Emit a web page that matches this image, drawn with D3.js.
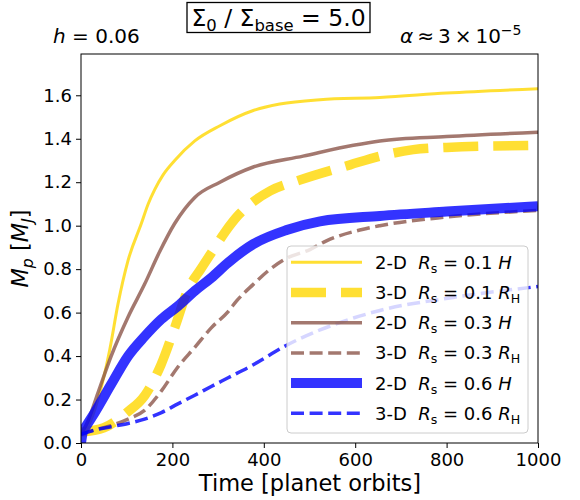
<!DOCTYPE html>
<html>
<head>
<meta charset="utf-8">
<script src="https://cdn.jsdelivr.net/npm/d3@7"></script>
<style>
  body { margin: 0; background: #fff; }
  svg { display: block; font-family: "DejaVu Sans", sans-serif; }
  text { white-space: pre; }
</style>
</head>
<body>
<svg id="chart" width="580" height="500"></svg>
<script>
// [time in planet orbits, planet mass in M_J]
var gold2D = [[0,0.04],[15,0.075],[37,0.20],[63,0.43],[81,0.64],[103,0.84],[132,1.01],[147,1.10],[161,1.165],[180,1.235],[205,1.30],[249,1.39],[304,1.46],[377,1.53],[435,1.56],[523,1.58],[654,1.59],[800,1.61],[1000,1.63]];
var gold3D = [[0,0.05],[50,0.07],[100,0.14],[140,0.22],[175,0.36],[205,0.53],[235,0.71],[262,0.80],[290,0.89],[315,0.97],[345,1.05],[377,1.11],[414,1.16],[479,1.21],[589,1.28],[654,1.32],[727,1.35],[800,1.36],[1000,1.37]];
var brown2D = [[0,0.04],[15,0.10],[37,0.23],[66,0.40],[103,0.58],[139,0.73],[172,0.88],[205,1.01],[249,1.13],[304,1.20],[377,1.27],[486,1.32],[596,1.37],[654,1.39],[800,1.41],[1000,1.43]];
var brown3D = [[0,0.04],[30,0.06],[66,0.08],[103,0.11],[139,0.15],[176,0.24],[212,0.35],[249,0.44],[285,0.53],[322,0.605],[341,0.655],[377,0.73],[414,0.80],[450,0.85],[501,0.89],[537,0.93],[610,0.98],[654,1.00],[800,1.04],[1000,1.07]];
var blue2D = [[0,0.0],[4,0.05],[12,0.08],[30,0.14],[66,0.27],[103,0.40],[139,0.49],[176,0.57],[212,0.63],[249,0.70],[285,0.76],[322,0.83],[377,0.915],[450,0.98],[523,1.02],[654,1.045],[800,1.065],[1000,1.09]];
var blue3D = [[0,0.04],[30,0.06],[66,0.075],[103,0.09],[139,0.11],[176,0.14],[212,0.18],[249,0.22],[285,0.26],[322,0.30],[377,0.36],[450,0.45],[523,0.52],[596,0.575],[654,0.61],[815,0.67],[1000,0.72]];

var xTicks = [0, 200, 400, 600, 800, 1000];
var yTicks = [0, 0.2, 0.4, 0.6, 0.8, 1.0, 1.2, 1.4, 1.6];
var legendDims = ["2-D", "3-D", "2-D", "3-D", "2-D", "3-D"];
var legendRs = ["0.1", "0.1", "0.3", "0.3", "0.6", "0.6"];

var svg = d3.select("#chart");
var x = d3.scaleLinear().domain([0, 1000]).range([81, 538]),
    y = d3.scaleLinear().domain([0, 1.79]).range([443, 54]);

var series = [
  { data: gold2D,  color: "gold",    width: 3,   dash: null },
  { data: gold3D,  color: "gold",    width: 9.5, dash: "35,15" },
  { data: brown2D, color: "#8c564b", width: 3.5, dash: null },
  { data: brown3D, color: "#8c564b", width: 3.5, dash: "13,5.6" },
  { data: blue2D,  color: "blue",    width: 10,  dash: null },
  { data: blue3D,  color: "blue",    width: 3.5, dash: "13,5.6" }
];

// sub / superscript helper, parts: {t, i, sub, sup}
function addMath(sel, parts, size) {
  var shift = 0;
  parts.forEach(function(p) {
    var ts = sel.append("tspan").text(p.t);
    var target = p.sub ? size * 0.22 : (p.sup ? -size * 0.42 : 0);
    ts.attr("dy", target - shift);
    shift = target;
    if (p.sub || p.sup) ts.attr("font-size", size * 0.7);
    if (p.i) ts.attr("font-style", "italic");
  });
}

svg.append("defs").append("clipPath").attr("id", "plotclip")
  .append("rect").attr("x", 81).attr("y", 54).attr("width", 457).attr("height", 389);

var line = d3.line()
  .x(function(d) { return x(d[0]); })
  .y(function(d) { return y(d[1]); })
  .curve(d3.curveMonotoneX);

svg.append("g").attr("clip-path", "url(#plotclip)")
  .selectAll("path.series")
  .data(series)
  .enter().append("path")
    .attr("class", "series")
    .attr("d", function(s) { return line(s.data); })
    .attr("fill", "none")
    .attr("stroke", function(s) { return s.color; })
    .attr("stroke-opacity", 0.8)
    .attr("stroke-width", function(s) { return s.width; })
    .attr("stroke-dasharray", function(s) { return s.dash; });

// axes
var xAxis = svg.append("g").attr("transform", "translate(0,443)")
  .call(d3.axisBottom(x).tickValues(xTicks).tickSize(5).tickSizeOuter(0).tickPadding(5).tickFormat(d3.format("d")));
var yAxis = svg.append("g").attr("transform", "translate(81,0)")
  .call(d3.axisLeft(y).tickValues(yTicks).tickSize(5).tickSizeOuter(0).tickPadding(4).tickFormat(d3.format(".1f")));
[xAxis, yAxis].forEach(function(a) {
  a.select(".domain").remove();
  a.selectAll("text").attr("font-size", 18).attr("font-family", "DejaVu Sans").attr("fill", "#000");
  a.selectAll("line").attr("stroke", "#000");
});

svg.append("rect")
  .attr("x", 81).attr("y", 54).attr("width", 457).attr("height", 389)
  .attr("fill", "none").attr("stroke", "#000").attr("stroke-width", 1);

// axis labels
svg.append("text").attr("x", 310).attr("y", 491).attr("text-anchor", "middle")
  .attr("font-size", 22.5).text("Time [planet orbits]");

var yl = svg.append("text").attr("text-anchor", "middle").attr("font-size", 22.5)
  .attr("transform", "translate(28,248.5) rotate(-90)");
addMath(yl, [{t: "M", i: true}, {t: "p", i: true, sub: true}, {t: " [", }, {t: "M", i: true}, {t: "J", i: true, sub: true}, {t: "]"}], 22.5);

// legend
var lg = svg.append("g");
lg.append("rect").attr("x", 287).attr("y", 246).attr("width", 241).attr("height", 187)
  .attr("rx", 4).attr("fill", "#fff").attr("fill-opacity", 0.8)
  .attr("stroke", "#ccc").attr("stroke-width", 1);

var rows = lg.selectAll("g.row").data(series).enter().append("g")
  .attr("class", "row")
  .attr("transform", function(s, i) { return "translate(0," + (262.3 + i * 30.2) + ")"; });

rows.append("line")
  .attr("x1", 291).attr("x2", 362).attr("y1", 0).attr("y2", 0)
  .attr("stroke", function(s) { return s.color; })
  .attr("stroke-opacity", 0.8)
  .attr("stroke-width", function(s) { return s.width; })
  .attr("stroke-dasharray", function(s) { return s.dash; });

rows.each(function(s, i) {
  var t = d3.select(this).append("text").attr("x", 375).attr("y", 6.5).attr("font-size", 18);
  var parts = [{t: legendDims[i] + "  "}, {t: "R", i: true}, {t: "s", sub: true}, {t: " = " + legendRs[i] + " "}];
  if (legendDims[i] === "2-D") parts.push({t: "H", i: true});
  else parts.push({t: "R", i: true}, {t: "H", sub: true});
  addMath(t, parts, 18);
});

// title row
svg.append("rect").attr("x", 187).attr("y", 2.5).attr("width", 183).attr("height", 30)
  .attr("fill", "#fff").attr("stroke", "#000").attr("stroke-width", 1.3);
var tt = svg.append("text").attr("x", 278.5).attr("y", 26).attr("text-anchor", "middle").attr("font-size", 23.5);
addMath(tt, [{t: "\u03a3"}, {t: "0", sub: true}, {t: " / \u03a3"}, {t: "base", sub: true}, {t: " = 5.0"}], 23.5);

var ht = svg.append("text").attr("x", 53).attr("y", 43).attr("font-size", 20);
addMath(ht, [{t: "h", i: true}, {t: " = 0.06"}], 20);

var at = svg.append("text").attr("x", 400).attr("y", 43).attr("font-size", 20);
addMath(at, [{t: "\u03b1", i: true}, {t: "\u2009\u2248\u20093\u2009\u00d7\u200910"}, {t: "\u22125", sup: true}], 20);
</script>
</body>
</html>
